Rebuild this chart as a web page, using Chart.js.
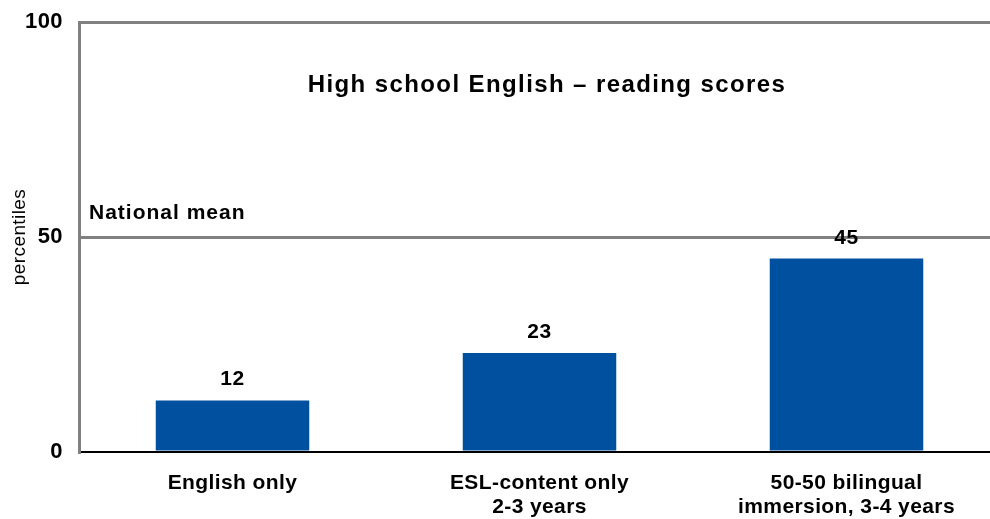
<!DOCTYPE html>
<html>
<head>
<meta charset="utf-8">
<script src="https://cdn.jsdelivr.net/npm/chart.js@4"></script>
<style>
html,body{margin:0;padding:0;background:#fff;overflow:hidden;}
#wrap{width:990px;height:519px;position:relative;overflow:hidden;}
canvas{display:block;}
</style>
</head>
<body>
<div id="wrap"><canvas id="c" width="1000" height="519"></canvas></div>
<script>
const categories = [["English only"], ["ESL-content only", "2-3 years"], ["50-50 bilingual", "immersion, 3-4 years"]];
const scores = [12, 23, 45];
const yTicks = [0, 50, 100];
const nationalMean = 50;
const chartTitle = "High school English \u2013 reading scores";
const meanLabel = "National mean";
const yTitle = "percentiles";

const FONT = "'Liberation Sans', Arial, sans-serif";

const spacing = {
  id: 'spacing',
  beforeDraw(chart) { chart.ctx.letterSpacing = '0.4px'; }
};

const overlay = {
  id: 'overlay',
  afterDatasetsDraw(chart) {
    const ctx = chart.ctx;
    const a = chart.chartArea;
    const y = chart.scales.y;
    ctx.save();
    ctx.fillStyle = '#000';
    // title
    ctx.letterSpacing = '1.4px';
    ctx.font = "bold 24px " + FONT;
    ctx.textAlign = 'center';
    ctx.textBaseline = 'alphabetic';
    ctx.fillText(chartTitle, 547, a.top + 70);
    // national mean label
    ctx.letterSpacing = '1px';
    ctx.font = "bold 21px " + FONT;
    ctx.textAlign = 'left';
    ctx.fillText(meanLabel, a.left + 10, y.getPixelForValue(nationalMean) - 18);
    // value labels
    ctx.letterSpacing = '0.5px';
    ctx.font = "bold 21px " + FONT;
    ctx.textAlign = 'center';
    const meta = chart.getDatasetMeta(0);
    meta.data.forEach((bar, i) => {
      ctx.fillText(String(scores[i]), bar.x, bar.y - 15);
    });
    ctx.restore();
  }
};

new Chart(document.getElementById('c'), {
  type: 'bar',
  data: {
    labels: categories,
    datasets: [{
      data: scores,
      backgroundColor: '#0050A0',
      borderWidth: 0,
      barPercentage: 0.5,
      categoryPercentage: 1.0
    }]
  },
  options: {
    responsive: false,
    animation: false,
    devicePixelRatio: 1,
    layout: { padding: 0 },
    plugins: { legend: { display: false }, tooltip: { enabled: false }, title: { display: false } },
    scales: {
      x: {
        grid: { display: false, drawTicks: false },
        border: { display: true, color: '#000', width: 2 },
        ticks: { color: '#000', font: { family: FONT, size: 21, weight: 'bold', lineHeight: 1.15 }, padding: 19, maxRotation: 0, autoSkip: false },
        afterFit(s) { s.height = 67; s.paddingTop = 0; }
      },
      y: {
        min: 0, max: 100,
        afterBuildTicks(s) { s.ticks = yTicks.map(v => ({ value: v })); },
        grid: {
          drawTicks: false,
          lineWidth: 3,
          color: ctx => (ctx.tick && (ctx.tick.value === nationalMean || ctx.tick.value === 100)) ? '#808080' : 'rgba(0,0,0,0)'
        },
        border: { display: true, color: '#808080', width: 3 },
        ticks: { color: '#000', font: { family: FONT, size: 22, weight: 'bold' }, padding: 16 },
        title: { display: true, text: yTitle, color: '#000', font: { family: FONT, size: 19 }, padding: { top: 8, bottom: 0 } },
        afterFit(s) { s.width = 79; s.paddingTop = 22; s.paddingBottom = 0; }
      }
    }
  },
  plugins: [spacing, overlay]
});
</script>
</body>
</html>
